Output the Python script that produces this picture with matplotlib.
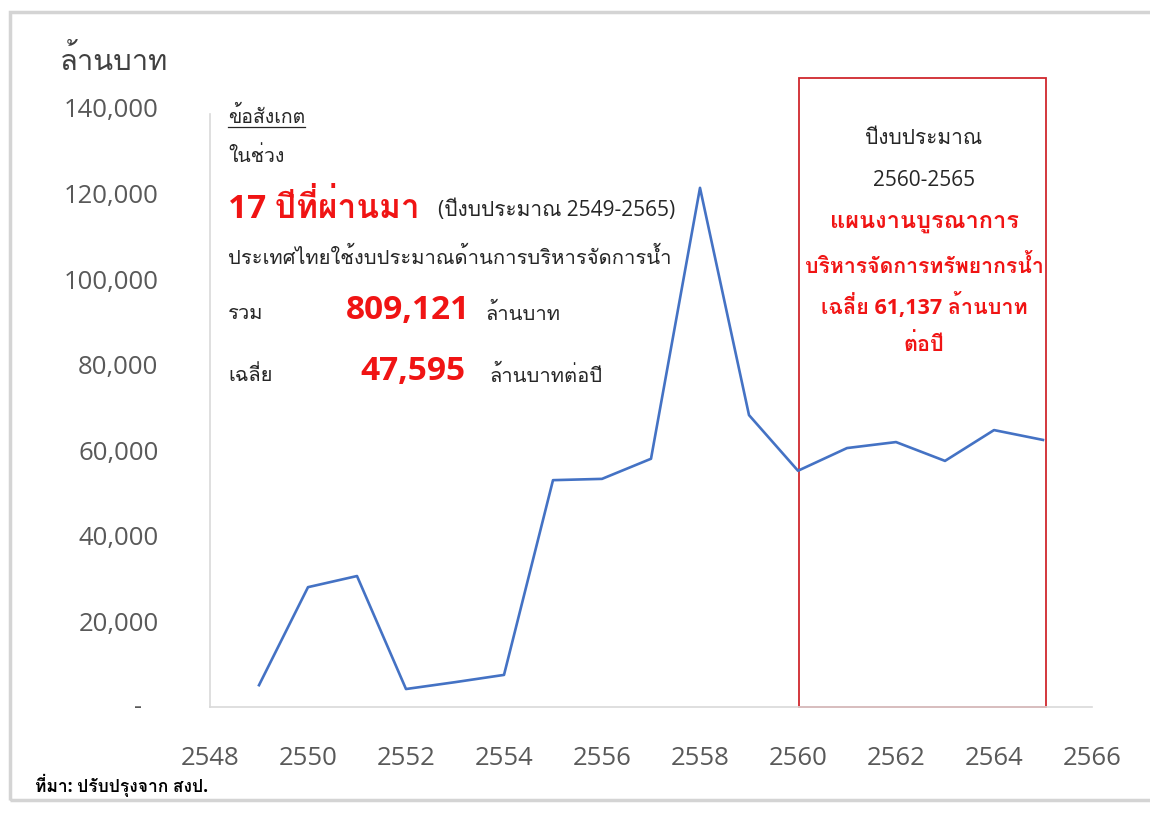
import matplotlib
matplotlib.use("Agg")
import matplotlib.pyplot as plt
from matplotlib.patches import Rectangle
from matplotlib.lines import Line2D
import matplotlib.transforms as mtransforms

# budget for water management, million baht
years = [2549, 2550, 2551, 2552, 2553, 2554, 2555, 2556, 2557,
         2558, 2559, 2560, 2561, 2562, 2563, 2564, 2565]
budget = [5100, 28000, 30600, 4200, 5800, 7500, 53000, 53300, 58000,
          121300, 68200, 55200, 60500, 61900, 57500, 64700, 62400]
yticks = [0, 20000, 40000, 60000, 80000, 100000, 120000, 140000]
ytick_labels = ['', '20,000', '40,000', '60,000', '80,000', '100,000', '120,000', '140,000']
xticks = list(range(2548, 2567, 2))
plan_years = (2560, 2565)

# Open Sans for latin/digits, Thai glyphs from Loma (it stacks tone marks properly)
plt.rcParams['font.family'] = ['Open Sans', 'Loma', 'Noto Sans Thai Looped', 'DejaVu Sans']

fig = plt.figure(figsize=(11.5, 8.21), dpi=100)
W, H = 1150, 821

# screenshot-like frame
fig.add_artist(Rectangle((10 / W, 1 - 800 / H), 1.2, (800 - 12) / H, transform=fig.transFigure,
                         fill=False, edgecolor='#d4d4d4', lw=2.5))

ax = fig.add_axes([210 / W, 1 - 707 / H, 882 / W, (707 - 65) / H])
ax.plot(years, budget, color='#4472c4', lw=1.9)
ax.set_xlim(2548, 2566)
ax.set_ylim(0, 150000)

for s in ['top', 'right']:
    ax.spines[s].set_visible(False)
for s in ['left', 'bottom']:
    ax.spines[s].set_color('#d9d9d9')
    ax.spines[s].set_linewidth(1.2)
ax.spines['left'].set_bounds(0, 138500)

ax.set_yticks(yticks)
ax.set_yticklabels(ytick_labels)
ax.set_xticks(xticks)
ax.tick_params(length=0, labelsize=18.5, labelcolor='#595959')
ax.tick_params(axis='y', pad=37)
ax.tick_params(axis='x', pad=28)
blend = mtransforms.blended_transform_factory(ax.transAxes, ax.transData)
ax.text(-0.0816, 0, '-', transform=blend, ha='center', va='center', fontsize=18, color='#595959')

fig.text(60 / W, 1 - 62 / H, 'ล้านบาท', fontsize=21, color='#404040', va='center')

# red box for the integrated plan years
ax.add_patch(Rectangle((plan_years[0] + 0.03, 0), plan_years[1] - plan_years[0] + 0.03, 147000,
                       fill=False, edgecolor='#d0272d', lw=1.3, clip_on=False))

dark = '#262626'
red = '#f01414'


def ftext(x, y, s, **kw):
    return fig.text(x / W, 1 - y / H, s, va='center', **kw)


ftext(228, 116, 'ข้อสังเกต', fontsize=14, color=dark)
fig.add_artist(Line2D([228 / W, 305 / W], [1 - 127 / H] * 2, color=dark, lw=0.9))
ftext(228, 156, 'ในช่วง', fontsize=14, color=dark)
ftext(228, 208, '17 ปีที่ผ่านมา', fontsize=24, color=red, fontweight='bold')
ftext(438, 210, '(ปีงบประมาณ 2549-2565)', fontsize=15, color=dark)
ftext(228, 258, 'ประเทศไทยใช้งบประมาณด้านการบริหารจัดการน้ำ', fontsize=14.5, color=dark)
ftext(228, 314, 'รวม', fontsize=14.5, color=dark)
ftext(346, 310, '809,121', fontsize=24, color=red, fontweight='bold')
ftext(486, 314, 'ล้านบาท', fontsize=14.5, color=dark)
ftext(228, 376, 'เฉลี่ย', fontsize=14.5, color=dark)
ftext(360, 372, '47,595', fontsize=24, color=red, fontweight='bold')
ftext(490, 376, 'ล้านบาทต่อปี', fontsize=14.5, color=dark)

cx = 924
ftext(cx, 139, 'ปีงบประมาณ', fontsize=15, color=dark, ha='center')
ftext(cx, 181, '2560-2565', fontsize=15, color=dark, ha='center')
ftext(cx, 222, 'แผนงานบูรณาการ', fontsize=17, color=red, ha='center', fontweight='bold')
ftext(cx, 266, 'บริหารจัดการทรัพยากรน้ำ', fontsize=15.3, color=red, ha='center', fontweight='bold')
ftext(cx, 306, 'เฉลี่ย 61,137 ล้านบาท', fontsize=15.5, color=red, ha='center', fontweight='bold')
ftext(cx, 345, 'ต่อปี', fontsize=15.5, color=red, ha='center', fontweight='bold')

ftext(35, 785, 'ที่มา: ปรับปรุงจาก สงป.', fontsize=12.5, color='black', fontweight='bold')

fig.savefig('out.png', dpi=100)
